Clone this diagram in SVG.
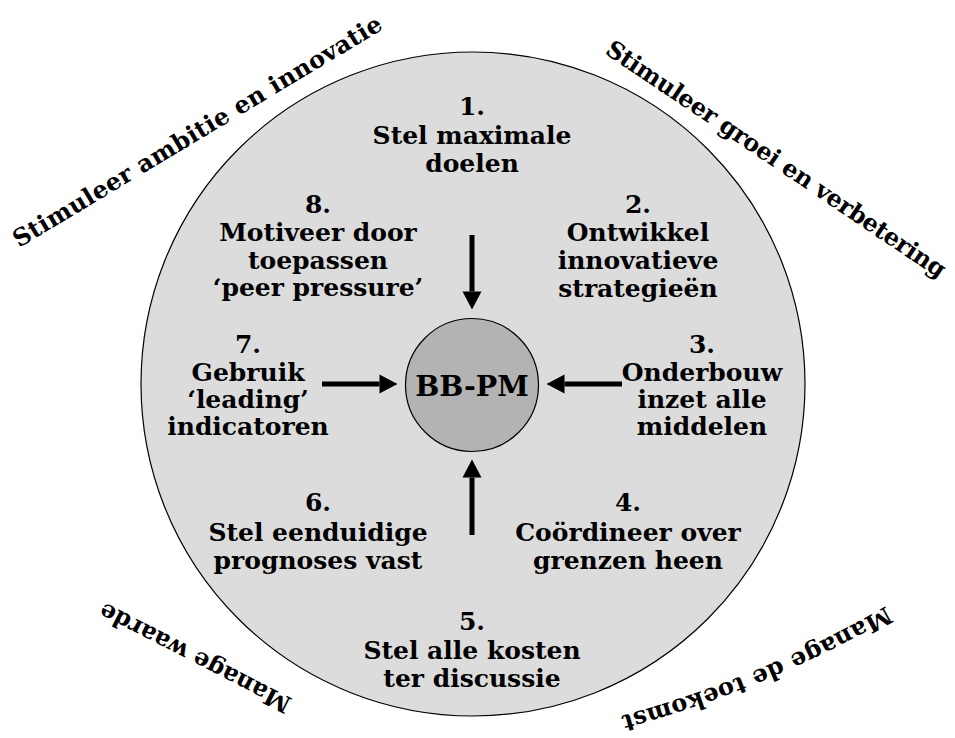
<svg xmlns="http://www.w3.org/2000/svg" width="955" height="738" viewBox="0 0 955 738">
  <style>
    text { font-family: "DejaVu Serif", "Liberation Serif", serif; font-weight: bold; fill: #000; }
    .lbl { font-size: 25px; text-anchor: middle; }
    .arc { font-size: 24px; }
    .hub { font-size: 28.5px; text-anchor: middle; }
    .conn { stroke: #000; stroke-width: 5; fill: none; marker-end: url(#head); }
  </style>
  <defs>
    <marker id="head" markerUnits="userSpaceOnUse" markerWidth="19" markerHeight="19" refX="0" refY="9.5" orient="auto" overflow="visible">
      <path d="M0,0 L18,9.5 L0,19 Z" fill="#000"/>
    </marker>
    <path id="pTL" d="M19,248 L387,27"/>
    <path id="pTR" d="M604,53 L944,282"/>
    <path id="pBL" d="M293,699 L102,601"/>
    <path id="pBR" d="M886,606 Q757,680 614,718"/>
  </defs>
  <rect width="955" height="738" fill="#fff"/>

  <g id="outer">
    <circle cx="473" cy="384" r="332" fill="#dcdcdc" stroke="#000" stroke-width="1.2"/>
  </g>

  <g id="themes">
    <text class="arc"><textPath href="#pTL" textLength="426" lengthAdjust="spacing">Stimuleer ambitie en innovatie</textPath></text>
    <text class="arc"><textPath href="#pTR" textLength="404" lengthAdjust="spacing">Stimuleer groei en verbetering</textPath></text>
    <text class="arc"><textPath href="#pBL" textLength="212" lengthAdjust="spacing">Manage waarde</textPath></text>
    <text class="arc"><textPath href="#pBR" textLength="288" lengthAdjust="spacing">Manage de toekomst</textPath></text>
  </g>

  <g id="connectors">
    <line class="conn" x1="472" y1="235" x2="472" y2="291.5"/>
    <line class="conn" x1="472" y1="535" x2="472" y2="477.5"/>
    <line class="conn" x1="322" y1="384" x2="379.5" y2="384"/>
    <line class="conn" x1="622" y1="384" x2="564.5" y2="384"/>
  </g>

  <g id="hub">
    <circle cx="472" cy="385" r="66.5" fill="#b3b3b3" stroke="#000" stroke-width="1.2"/>
    <text class="hub" x="472" y="395.5">BB-PM</text>
  </g>

  <g id="n1">
    <text class="lbl"><tspan x="472" y="114.5">1.</tspan><tspan x="472" y="143.5">Stel maximale</tspan><tspan x="472" y="172">doelen</tspan></text>
  </g>
  <g id="n2">
    <text class="lbl"><tspan x="638" y="213">2.</tspan><tspan x="638" y="241">Ontwikkel</tspan><tspan x="638" y="269">innovatieve</tspan><tspan x="638" y="296.5">strategieën</tspan></text>
  </g>
  <g id="n3">
    <text class="lbl"><tspan x="702" y="353">3.</tspan><tspan x="702" y="381">Onderbouw</tspan><tspan x="702" y="408">inzet alle</tspan><tspan x="702" y="435">middelen</tspan></text>
  </g>
  <g id="n4">
    <text class="lbl"><tspan x="628" y="511">4.</tspan><tspan x="628" y="541">Coördineer over</tspan><tspan x="628" y="569">grenzen heen</tspan></text>
  </g>
  <g id="n5">
    <text class="lbl"><tspan x="472" y="630">5.</tspan><tspan x="472" y="658.5">Stel alle kosten</tspan><tspan x="472" y="687">ter discussie</tspan></text>
  </g>
  <g id="n6">
    <text class="lbl"><tspan x="318" y="511">6.</tspan><tspan x="318" y="541">Stel eenduidige</tspan><tspan x="318" y="569">prognoses vast</tspan></text>
  </g>
  <g id="n7">
    <text class="lbl"><tspan x="248" y="353">7.</tspan><tspan x="248" y="381">Gebruik</tspan><tspan x="248" y="408">‘leading’</tspan><tspan x="248" y="435">indicatoren</tspan></text>
  </g>
  <g id="n8">
    <text class="lbl"><tspan x="318" y="213">8.</tspan><tspan x="318" y="241">Motiveer door</tspan><tspan x="318" y="269">toepassen</tspan><tspan x="318" y="296">‘peer pressure’</tspan></text>
  </g>
</svg>
